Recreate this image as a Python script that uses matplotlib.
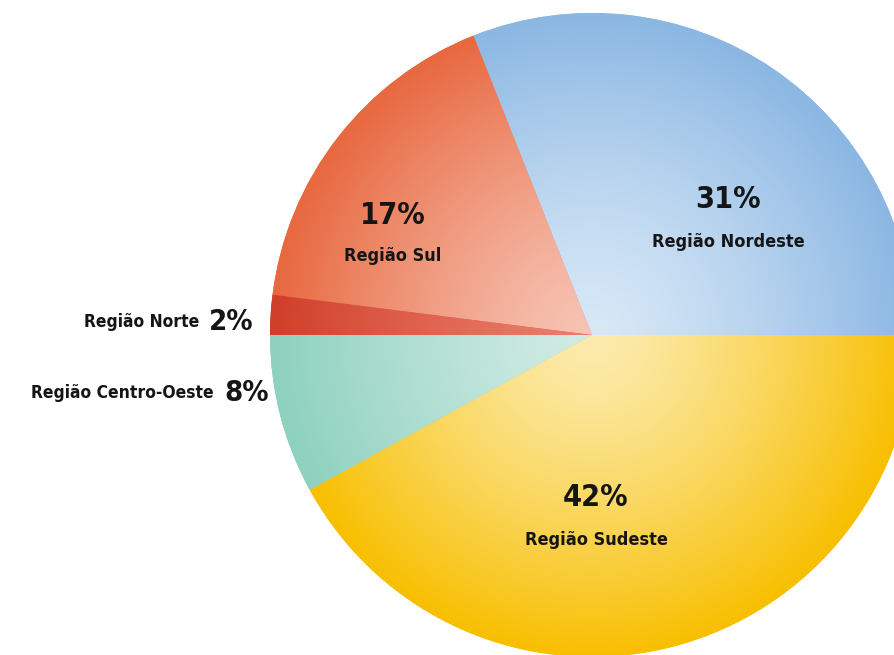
import matplotlib.pyplot as plt
import numpy as np
from matplotlib.colors import LinearSegmentedColormap

# share of each region
regions = ['Região Nordeste', 'Região Sul', 'Região Norte', 'Região Centro-Oeste', 'Região Sudeste']
shares = [31, 17, 2, 8, 42]
# (centre colour, rim colour) for each slice
shades = [('#d8e8f7', '#8bb7e3'),
          ('#f7c3b3', '#e8683f'),
          ('#ec7d6b', '#cf3f29'),
          ('#d0ebe4', '#8dd1bf'),
          ('#fcebae', '#f8bf00')]

plt.rcParams['font.family'] = ['DejaVu Sans']
plt.rcParams['font.stretch'] = 'condensed'

fig = plt.figure(figsize=(8.94, 6.55), dpi=100)
ax = fig.add_axes([0, 0, 1, 1])
cx, cy, R = 592, 320, 322

wedges, _ = ax.pie(shares, startangle=0, counterclock=True, center=(cx, cy),
                   radius=R, wedgeprops=dict(linewidth=0))

# radial shading inside every wedge
n = 600
xs = np.linspace(cx - R, cx + R, n)
ys = np.linspace(cy - R, cy + R, n)
X, Y = np.meshgrid(xs, ys)
dist = np.clip(np.hypot(X - cx, Y - cy) / R, 0, 1) ** 1.3
for w, (c0, c1) in zip(wedges, shades):
    w.set_facecolor(c1)
    cmap = LinearSegmentedColormap.from_list('s', [c0, c1])
    im = ax.imshow(dist, cmap=cmap, vmin=0, vmax=1, origin='lower',
                   extent=(cx - R, cx + R, cy - R, cy + R), interpolation='bilinear', zorder=2)
    im.set_clip_path(w)

ax.set_xlim(0, 894)
ax.set_ylim(0, 655)
ax.set_aspect('equal')
ax.axis('off')

H = 655
txt = dict(color='#151515', fontweight='bold', fontstretch='condensed', zorder=5)
# labels inside the slices
inside = {0: (728, 200, 242), 1: (393, 215, 256), 4: (596, 497, 540)}
for i, (x, yp, yl) in inside.items():
    ax.text(x, H - yp, f'{shares[i]}%', fontsize=22, ha='center', va='center', **txt)
    ax.text(x, H - yl, regions[i], fontsize=13, ha='center', va='center', **txt)

# labels for the thin slices on the left
outside = {2: (199, 322), 3: (214, 393)}
for i, (x, yp) in outside.items():
    ax.text(x, H - yp, regions[i], fontsize=12.5, ha='right', va='center', **txt)
    ax.text(x + 10, H - yp, f'{shares[i]}%', fontsize=21, ha='left', va='center', **txt)

fig.savefig('out.png', dpi=100)
